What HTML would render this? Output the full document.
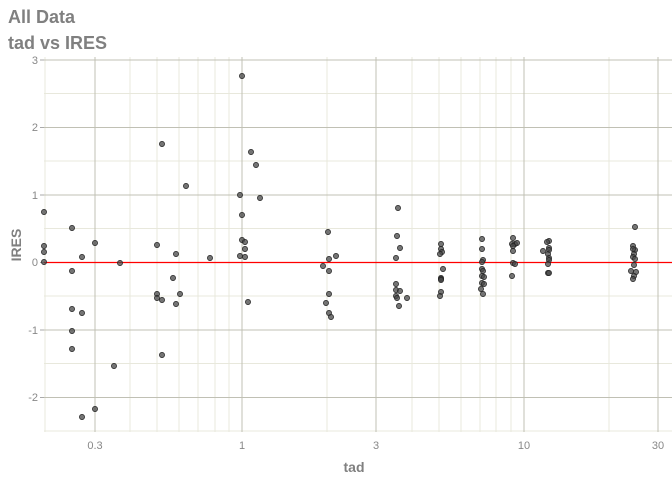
<!DOCTYPE html>
<html><head><meta charset="utf-8"><style>
html,body{margin:0;padding:0;background:#fff;}
svg{display:block;font-family:"Liberation Sans",sans-serif;}
</style></head><body>
<svg width="672" height="480" viewBox="0 0 672 480">
<text x="8" y="23" font-size="18" font-weight="bold" fill="#808080">All Data</text>
<text x="8" y="49" font-size="18" font-weight="bold" fill="#808080">tad vs IRES</text>
<g stroke="#e8e8dc" stroke-width="1">
<line x1="44" x2="672" y1="93.5" y2="93.5"/><line x1="44" x2="672" y1="161" y2="161"/>
<line x1="44" x2="672" y1="228.5" y2="228.5"/><line x1="44" x2="672" y1="296" y2="296"/>
<line x1="44" x2="672" y1="363.5" y2="363.5"/><line x1="44" x2="672" y1="431" y2="431"/>
<line y1="57" y2="432" x1="45" x2="45"/><line y1="57" y2="432" x1="130" x2="130"/>
<line y1="57" y2="432" x1="157" x2="157"/><line y1="57" y2="432" x1="179" x2="179"/>
<line y1="57" y2="432" x1="198" x2="198"/><line y1="57" y2="432" x1="215" x2="215"/>
<line y1="57" y2="432" x1="229" x2="229"/><line y1="57" y2="432" x1="327" x2="327"/>
<line y1="57" y2="432" x1="412" x2="412"/><line y1="57" y2="432" x1="439" x2="439"/>
<line y1="57" y2="432" x1="461" x2="461"/><line y1="57" y2="432" x1="480" x2="480"/>
<line y1="57" y2="432" x1="496" x2="496"/><line y1="57" y2="432" x1="511" x2="511"/>
<line y1="57" y2="432" x1="609" x2="609"/>
</g>
<g stroke="#c0c0b4" stroke-width="1">
<line x1="44" x2="672" y1="60" y2="60"/><line x1="44" x2="672" y1="127.5" y2="127.5"/>
<line x1="44" x2="672" y1="195" y2="195"/><line x1="44" x2="672" y1="330" y2="330"/>
<line x1="44" x2="672" y1="397.5" y2="397.5"/>
<line y1="57" y2="432" x1="95" x2="95"/><line y1="57" y2="432" x1="242" x2="242"/>
<line y1="57" y2="432" x1="376" x2="376"/><line y1="57" y2="432" x1="524" x2="524"/>
<line y1="57" y2="432" x1="658" x2="658"/>
</g>
<g stroke="#aaa"><line x1="40" x2="44" y1="60" y2="60"/><line x1="40" x2="44" y1="127.5" y2="127.5"/><line x1="40" x2="44" y1="195" y2="195"/><line x1="40" x2="44" y1="262.5" y2="262.5"/><line x1="40" x2="44" y1="330" y2="330"/><line x1="40" x2="44" y1="397.5" y2="397.5"/></g>
<g font-size="11" fill="#888" text-anchor="end">
<text x="38" y="64">3</text><text x="38" y="131">2</text><text x="38" y="199">1</text>
<text x="38" y="266">0</text><text x="38" y="334">-1</text><text x="38" y="401">-2</text>
</g>
<g font-size="11" fill="#888" text-anchor="middle">
<text x="95" y="449">0.3</text><text x="242" y="449">1</text><text x="376" y="449">3</text>
<text x="524" y="449">10</text><text x="658" y="449">30</text>
</g>
<text x="354" y="472" font-size="14" font-weight="bold" fill="#808080" text-anchor="middle">tad</text>
<text transform="translate(21,245) rotate(-90)" font-size="14" font-weight="bold" fill="#808080" text-anchor="middle">IRES</text>
<line x1="44" x2="672" y1="262.5" y2="262.5" stroke="#ff0000" stroke-width="1.3"/>
<g fill="rgba(70,70,70,0.75)" stroke="#222" stroke-width="0.7">
<circle cx="242" cy="76" r="2.6"/>
<circle cx="162" cy="144" r="2.6"/><circle cx="251" cy="152" r="2.6"/><circle cx="256" cy="165" r="2.6"/>
<circle cx="186" cy="186" r="2.6"/><circle cx="240" cy="195" r="2.6"/><circle cx="260" cy="198" r="2.6"/>
<circle cx="44" cy="212" r="2.6"/><circle cx="242" cy="215" r="2.6"/><circle cx="72" cy="228" r="2.6"/>
<circle cx="44" cy="246" r="2.6"/><circle cx="95" cy="243" r="2.6"/><circle cx="157" cy="245" r="2.6"/>
<circle cx="242" cy="240" r="2.6"/><circle cx="245" cy="242" r="2.6"/><circle cx="44" cy="252" r="2.6"/>
<circle cx="245" cy="249" r="2.6"/><circle cx="82" cy="257" r="2.6"/><circle cx="176" cy="254" r="2.6"/>
<circle cx="210" cy="258" r="2.6"/><circle cx="240" cy="256" r="2.6"/><circle cx="245" cy="257" r="2.6"/>
<circle cx="44" cy="262" r="2.6"/><circle cx="120" cy="263" r="2.6"/><circle cx="72" cy="271" r="2.6"/>
<circle cx="173" cy="278" r="2.6"/><circle cx="157" cy="294" r="2.6"/><circle cx="180" cy="294" r="2.6"/>
<circle cx="157" cy="298" r="2.6"/><circle cx="162" cy="300" r="2.6"/><circle cx="176" cy="304" r="2.6"/>
<circle cx="248" cy="302" r="2.6"/><circle cx="72" cy="309" r="2.6"/><circle cx="82" cy="313" r="2.6"/>
<circle cx="72" cy="331" r="2.6"/><circle cx="72" cy="349" r="2.6"/><circle cx="162" cy="355" r="2.6"/>
<circle cx="114" cy="366" r="2.6"/><circle cx="82" cy="417" r="2.6"/><circle cx="95" cy="409" r="2.6"/>
<circle cx="398" cy="208" r="2.6"/><circle cx="328" cy="232" r="2.6"/><circle cx="397" cy="236" r="2.6"/>
<circle cx="400" cy="248" r="2.6"/><circle cx="336" cy="256" r="2.6"/><circle cx="329" cy="259" r="2.6"/>
<circle cx="396" cy="258" r="2.6"/><circle cx="323" cy="266" r="2.6"/><circle cx="329" cy="271" r="2.6"/>
<circle cx="329" cy="294" r="2.6"/><circle cx="326" cy="303" r="2.6"/><circle cx="329" cy="313" r="2.6"/>
<circle cx="331" cy="317" r="2.6"/><circle cx="396" cy="284" r="2.6"/><circle cx="396" cy="290" r="2.6"/>
<circle cx="400" cy="291" r="2.6"/><circle cx="396" cy="296" r="2.6"/><circle cx="397" cy="298" r="2.6"/>
<circle cx="407" cy="298" r="2.6"/><circle cx="399" cy="306" r="2.6"/>
<circle cx="441" cy="244" r="2.6"/><circle cx="441" cy="249" r="2.6"/><circle cx="442" cy="252" r="2.6"/>
<circle cx="440" cy="254" r="2.6"/><circle cx="443" cy="269" r="2.6"/><circle cx="441" cy="278" r="2.6"/>
<circle cx="441" cy="279" r="2.6"/><circle cx="441" cy="280" r="2.6"/><circle cx="441" cy="292" r="2.6"/>
<circle cx="440" cy="296" r="2.6"/>
<circle cx="482" cy="239" r="2.6"/><circle cx="482" cy="249" r="2.6"/><circle cx="483" cy="260" r="2.6"/>
<circle cx="482" cy="262" r="2.6"/><circle cx="482" cy="269" r="2.6"/><circle cx="483" cy="271" r="2.6"/>
<circle cx="482" cy="276" r="2.6"/><circle cx="484" cy="277" r="2.6"/><circle cx="482" cy="283" r="2.6"/>
<circle cx="484" cy="284" r="2.6"/><circle cx="481" cy="289" r="2.6"/><circle cx="483" cy="294" r="2.6"/>
<circle cx="513" cy="238" r="2.6"/><circle cx="512" cy="244" r="2.6"/><circle cx="515" cy="244" r="2.6"/>
<circle cx="517" cy="243" r="2.6"/><circle cx="513" cy="246" r="2.6"/><circle cx="513" cy="251" r="2.6"/>
<circle cx="513" cy="263" r="2.6"/><circle cx="515" cy="264" r="2.6"/><circle cx="512" cy="276" r="2.6"/>
<circle cx="549" cy="241" r="2.6"/><circle cx="547" cy="242" r="2.6"/><circle cx="549" cy="248" r="2.6"/>
<circle cx="543" cy="251" r="2.6"/><circle cx="549" cy="250" r="2.6"/><circle cx="548" cy="254" r="2.6"/>
<circle cx="549" cy="258" r="2.6"/><circle cx="549" cy="260" r="2.6"/><circle cx="548" cy="264" r="2.6"/>
<circle cx="548" cy="273" r="2.6"/><circle cx="549" cy="273" r="2.6"/>
<circle cx="635" cy="227" r="2.6"/><circle cx="633" cy="246" r="2.6"/><circle cx="635" cy="250" r="2.6"/>
<circle cx="633" cy="249" r="2.6"/><circle cx="634" cy="254" r="2.6"/><circle cx="633" cy="257" r="2.6"/>
<circle cx="635" cy="259" r="2.6"/><circle cx="634" cy="265" r="2.6"/><circle cx="631" cy="271" r="2.6"/>
<circle cx="636" cy="272" r="2.6"/><circle cx="634" cy="276" r="2.6"/><circle cx="633" cy="279" r="2.6"/>
</g>
</svg>
</body></html>
